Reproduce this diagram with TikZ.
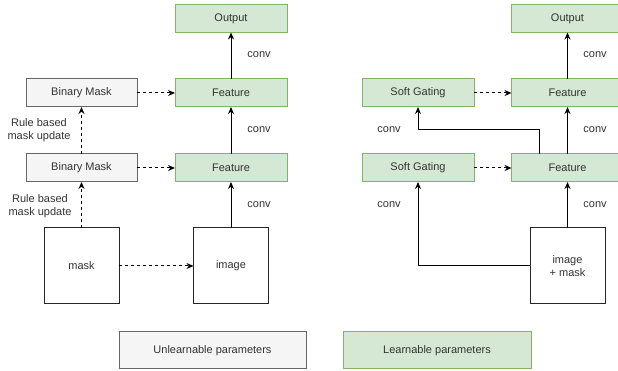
\documentclass[tikz,border=0pt]{standalone}
\usepackage{fontspec}
\setmainfont{Liberation Sans}
\usetikzlibrary{arrows.meta}
\definecolor{learnfill}{HTML}{D5E8D4}
\definecolor{learnline}{HTML}{82B366}
\definecolor{fixfill}{HTML}{F5F5F5}
\definecolor{fixline}{HTML}{666666}
\definecolor{txt}{HTML}{333333}

\begin{document}
\begin{tikzpicture}
[x=1pt,y=1pt,line width=1pt,
 every node/.style={text=txt,font=\fontsize{11}{13}\selectfont,inner sep=0pt,outer sep=0pt,align=center},
 learn/.style={draw=learnline,fill=learnfill,minimum width=112pt,minimum height=28pt},
 fixed/.style={draw=fixline,fill=fixfill,minimum width=111pt,minimum height=28pt},
 input/.style={draw=black!85,fill=white,minimum width=75pt,minimum height=76pt},
 arr/.style={-{Stealth[length=7pt,width=6pt]}},
 dashline/.style={dash pattern=on 3pt off 3pt}]
\useasboundingbox (0,0) rectangle (618,371);
% binary mask (left)
\node[learn] (outL) at (231,352.5) {Output};
\node[learn] (featL2) at (231,278) {Feature};
\node[learn] (featL1) at (231,203) {Feature};
\node[fixed] (bmL2) at (81.5,278) {Binary Mask};
\node[fixed] (bmL1) at (81.5,203) {Binary Mask};
\node[input] (maskL) at (81.5,105) {mask};
\node[input] (imgL) at (231,105) {image};
\node (ruleL2) at (39,241) {Rule based\\mask update};
\node (ruleL1) at (40,165) {Rule based\\mask update};
\node (convL3) at (259,316) {conv};
\node (convL2) at (259,241) {conv};
\node (convL1) at (259,166) {conv};
% gated (right)
\node[learn] (outR) at (567.5,352.5) {Output};
\node[learn] (featR2) at (567.5,278) {Feature};
\node[learn] (featR1) at (567.5,203) {Feature};
\node[learn] (sgR2) at (418,278) {Soft Gating};
\node[learn] (sgR1) at (418,203) {Soft Gating};
\node[input] (imR) at (567.5,105) {image\\+ mask};
\node (convR3) at (595,316) {conv};
\node (convR2) at (595,241) {conv};
\node (convR1) at (595,166) {conv};
\node (convG2) at (389,241) {conv};
\node (convG1) at (389,166) {conv};
% legend
\node[fixed,minimum width=187pt,minimum height=37pt] (unlearn) at (212.5,20.5) {Unlearnable parameters};
\node[learn,minimum width=188pt,minimum height=37pt] (learnable) at (437,20.5) {Learnable parameters};
\foreach \from/\to in {imgL/featL1,featL1/featL2,featL2/outL,imR/featR1,featR1/featR2,featR2/outR}
	\draw[arr] (\from) -- (\to);
\foreach \from/\to in {maskL/imgL,maskL/bmL1,bmL1/bmL2,bmL1/featL1,bmL2/featL2,sgR1/featR1,sgR2/featR2}
	\draw[arr,dashline] (\from) -- (\to);
\draw[arr] ([xshift=-28.5pt]featR1.north) -- ++(0,24) -| (sgR2.south);
\draw[arr] (imR.west) -| (sgR1.south);
\end{tikzpicture}
\end{document}
